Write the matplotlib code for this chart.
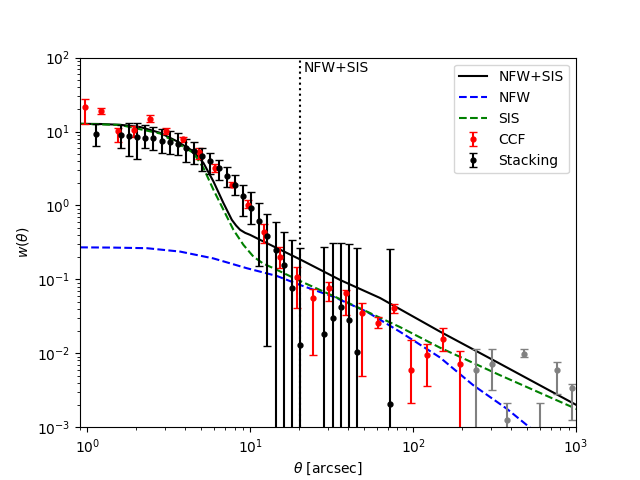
import numpy as np
import matplotlib
matplotlib.use("Agg")
import matplotlib.pyplot as plt

# model curves
theta_tot = [0.902, 1.197, 1.588, 2.106, 2.795, 3.538, 4.475, 5.153, 5.935, 6.838,
             7.697, 8.18, 8.659, 9.29, 9.97, 11.49, 20.22, 35.58, 62.64, 146.2, 341.5, 1000]
w_tot = [12.72, 12.64, 12.33, 11.51, 9.60, 7.39, 5.40, 3.76, 2.116, 1.078,
         0.640, 0.535, 0.468, 0.426, 0.400, 0.3424, 0.1862, 0.0982, 0.0560, 0.01964,
         0.00722, 0.00201]

theta_sis = [0.902, 1.588, 2.795, 3.538, 4.475, 5.153, 5.935, 6.838, 7.876, 9.07,
             10.45, 11.98, 13.87, 20.22, 32.37, 51.9, 83.1, 146.2, 341.5, 1009]
w_sis = [12.72, 12.27, 9.4, 7.03, 5.14, 3.22, 1.633, 0.874, 0.468, 0.293,
         0.203, 0.164, 0.1415, 0.0951, 0.0595, 0.0367, 0.0226, 0.0119, 0.00505, 0.00176]

theta_nfw = [0.902, 1.438, 2.316, 3.707, 5.935, 9.52, 14.54, 20.22, 32.37, 51.9,
             83.1, 146.2, 234.2, 375.4, 529.5]
w_nfw = [0.271, 0.269, 0.264, 0.2375, 0.192, 0.1415, 0.1112, 0.0839, 0.0582, 0.0365,
         0.0195, 0.00877, 0.00369, 0.00178, 0.00096]

# CCF measurements
theta_ccf = [0.966, 1.216, 1.531, 1.928, 2.427, 3.055, 3.846, 4.842, 6.096, 7.674,
             9.66, 12.16, 15.31, 19.28, 24.27, 30.55, 38.46, 48.42, 60.95, 76.74,
             96.6, 121.6, 153.1, 192.8]
w_ccf = [21.6, 18.8, 10.1, 10.5, 14.7, 10.2, 7.8, 5.3, 3.2, 1.91,
         1.02, 0.436, 0.203, 0.1067, 0.0554, 0.0757, 0.066, 0.0347, 0.0254, 0.0405,
         0.00603, 0.0094, 0.0154, 0.00727]
hi_ccf = [27.8, 21.0, 11.2, 12.0, 16.6, 11.0, 8.55, 5.9, 3.65, 2.08,
          1.19, 0.565, 0.273, 0.146, 0.0734, 0.0914, 0.0718, 0.0474, 0.0312, 0.046,
          0.0151, 0.0132, 0.0217, 0.0108]
lo_ccf = [12.8, 17.0, 7.2, 8.4, 13.5, 9.4, 7.25, 4.26, 2.8, 1.75,
          0.92, 0.315, 0.1415, 0.0405, 0.0094, 0.0514, 0.0329, 0.00489, 0.0217, 0.0347,
          0.00215, 0.00366, 0.0107, 1e-6]

# Stacking measurements
theta_st = [1.135, 1.603, 1.799, 2.018, 2.265, 2.541, 2.851, 3.199, 3.589, 4.027,
            4.519, 5.07, 5.689, 6.383, 7.161, 8.035, 9.016, 10.12, 11.35, 12.74,
            14.29, 16.03, 17.99, 20.18, 28.51, 31.99, 35.89, 40.27, 45.19, 71.61]
w_st = [9.4, 9.0, 8.6, 8.5, 8.3, 8.1, 7.55, 7.3, 6.8, 6.07,
        5.5, 4.6, 4.04, 3.2, 2.53, 1.91, 1.35, 0.92, 0.614, 0.388,
        0.25, 0.157, 0.0757, 0.0129, 0.018, 0.0297, 0.0418, 0.0281, 0.0103, 0.00208]
hi_st = [12.7, 12.4, 13.1, 13.1, 12.2, 11.6, 10.9, 10.3, 9.5, 7.9,
         7.25, 5.9, 5.14, 4.17, 3.28, 2.55, 1.91, 1.50, 1.08, 0.764,
         0.588, 0.444, 0.343, 0.264, 0.278, 0.309, 0.315, 0.302, 0.264, 0.256]
lo_st = [6.3, 5.9, 4.6, 4.3, 6.0, 5.7, 5.1, 5.0, 4.8, 3.9,
         3.65, 2.9, 2.67, 2.23, 1.75, 1.40, 0.73, 0.565, 0.153, 0.0125,
         1e-6, 1e-6, 1e-6, 1e-6, 1e-6, 1e-6, 1e-6, 1e-6, 1e-6, 1e-6]

# large-scale stacking points (grey)
theta_gr = [242, 304, 378, 482, 604, 762, 948]
w_gr = [0.0059, 0.00718, 0.00126, 0.0097, 0.0008, 0.0059, 0.0034]
hi_gr = [0.0116, 0.0116, 0.00214, 0.0116, 0.00215, 0.00764, 0.00389]
lo_gr = [1e-6, 0.00316, 1e-6, 0.0089, 1e-6, 0.00285, 0.00126]

theta_split = 20.2


def yerr(w, lo, hi):
    w = np.array(w)
    return [w - np.array(lo), np.array(hi) - w]


fig, ax = plt.subplots(figsize=(6.4, 4.8), dpi=100)

ax.plot(theta_tot, w_tot, color='black', label='NFW+SIS')
ax.plot(theta_nfw, w_nfw, color='blue', ls='--', label='NFW')
ax.plot(theta_sis, w_sis, color='green', ls='--', label='SIS')

ax.errorbar(theta_ccf, w_ccf, yerr=yerr(w_ccf, lo_ccf, hi_ccf), fmt='o', color='red',
            ms=3.5, capsize=3, label='CCF')
ax.errorbar(theta_st, w_st, yerr=yerr(w_st, lo_st, hi_st), fmt='o', color='black',
            ms=3.5, capsize=3, label='Stacking')
ax.errorbar(theta_gr, w_gr, yerr=yerr(w_gr, lo_gr, hi_gr), fmt='o', color='gray',
            ms=3.5, capsize=3)

ax.axvline(theta_split, color='black', ls=':')
ax.text(21.4, 71.6, 'NFW+SIS', va='center', ha='left')

ax.set_xscale('log')
ax.set_yscale('log')
ax.set_xlim(0.9, 1000)
ax.set_ylim(1e-3, 1e2)
ax.set_xlabel(r'$\theta$ [arcsec]')
ax.set_ylabel(r'$w(\theta)$')
ax.legend(loc='upper right')

fig.savefig('out.png', dpi=100)
